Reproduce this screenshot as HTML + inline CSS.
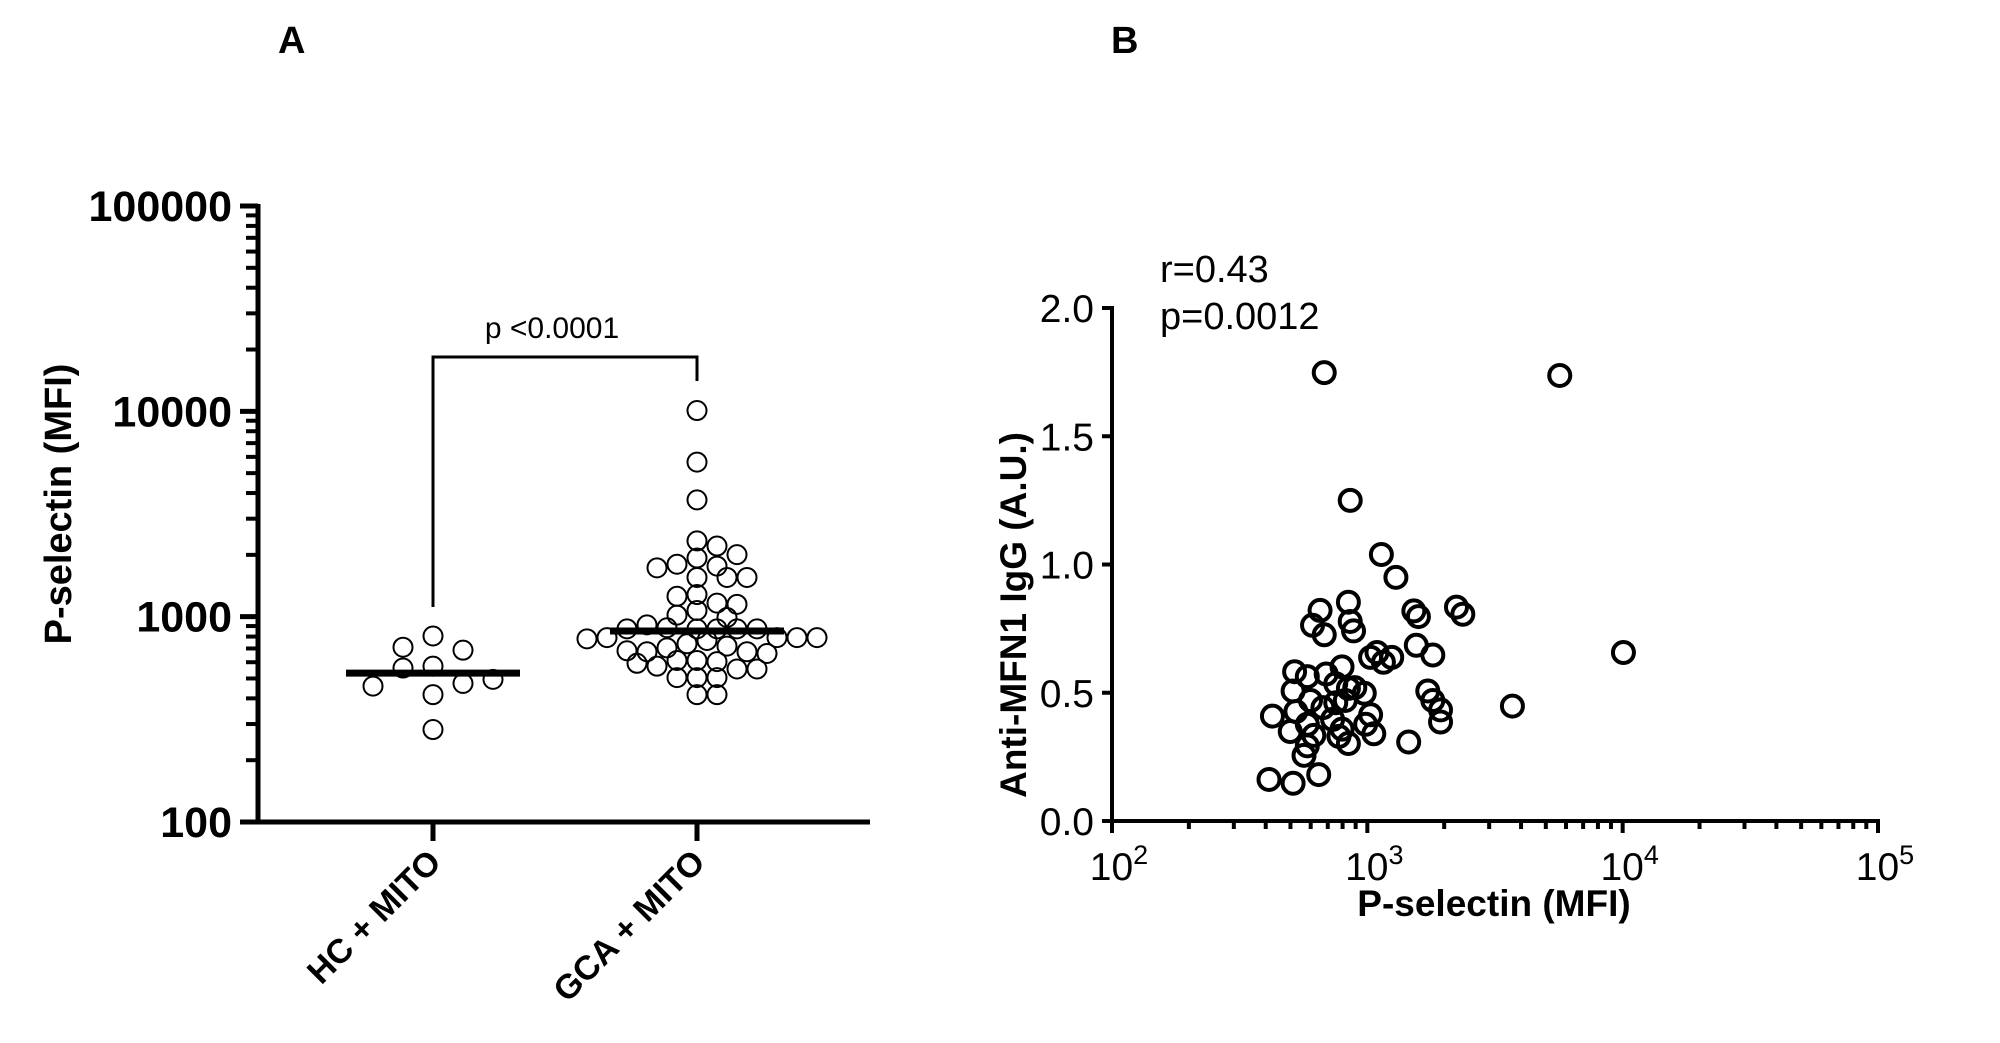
<!DOCTYPE html>
<html><head><meta charset="utf-8"><style>
html,body{margin:0;padding:0;background:#fff;}
svg{display:block;font-family:"Liberation Sans",Arial,sans-serif;}
</style></head><body>
<svg id="fig" width="2000" height="1043" viewBox="0 0 2000 1043">
<text x="278" y="53" font-size="38" font-weight="bold">A</text>
<text x="1111" y="53" font-size="38" font-weight="bold">B</text>
<g id="pa"></g>
<g id="pb"></g>
</svg>
<script>
// Panel A data
const aCategories = ["HC + MITO", "GCA + MITO"];
const aYTicks = [100, 1000, 10000, 100000];
const aMedians = [531, 851];
const hcValues = [805, 687, 710, 574, 562, 473, 495, 459, 417, 282];
const gcaValues = [10090, 5660, 3705, 2339, 2208, 1930, 1763, 1800, 2005, 1552, 1729, 1552, 1552, 1282, 1164, 1257, 1148, 1072, 1018, 991, 872, 883, 872, 872, 912, 872, 872, 791, 791, 791, 780, 791, 766, 738, 719, 705, 675, 675, 662, 682, 612, 604, 612, 556, 574, 593, 556, 505, 505, 505, 417, 417];
const pLabel = "p <0.0001";
// Panel B data
const bXTickExp = [2, 3, 4, 5];
const bYTicks = [0.0, 0.5, 1.0, 1.5, 2.0];
const bX = [678, 5670, 857, 1135, 1294, 843, 653, 610, 678, 857, 883, 1521, 1585, 2234, 2366, 1555, 1805, 10070, 1030, 1156, 1246, 1091, 519, 582, 512, 599, 525, 425, 499, 582, 617, 582, 565, 412, 512, 645, 690, 752, 796, 843, 752, 820, 893, 731, 796, 843, 774, 1030, 985, 1060, 1725, 1805, 1935, 1935, 1452, 3700, 670, 973];
const bY = [1.748, 1.737, 1.25, 1.039, 0.95, 0.853, 0.821, 0.763, 0.726, 0.778, 0.741, 0.819, 0.797, 0.834, 0.806, 0.685, 0.647, 0.657, 0.638, 0.619, 0.638, 0.657, 0.582, 0.563, 0.507, 0.47, 0.427, 0.409, 0.349, 0.377, 0.334, 0.293, 0.256, 0.162, 0.147, 0.181, 0.573, 0.535, 0.601, 0.517, 0.461, 0.47, 0.52, 0.396, 0.358, 0.302, 0.33, 0.414, 0.377, 0.34, 0.507, 0.47, 0.433, 0.386, 0.308, 0.448, 0.442, 0.498];
const statsR = "r=0.43", statsP = "p=0.0012";

const NS = "http://www.w3.org/2000/svg";
function mk(parent, tag, attrs, text) {
  const e = document.createElementNS(NS, tag);
  for (const k in attrs) e.setAttribute(k, attrs[k]);
  if (text !== undefined) e.textContent = text;
  parent.appendChild(e);
  return e;
}

// ===== Panel A =====
const pa = document.getElementById('pa');
const aLeft = 258, aRight = 870, aTop = 206, aBottom = 822;
const aCatX = [433, 697];
const ay = v => aBottom - (Math.log10(v) - 2) * (aBottom - aTop) / 3;

let e;
e = mk(pa, 'line', {x1: aLeft, y1: aTop - 2, x2: aLeft, y2: aBottom + 2.5, stroke: '#000', 'stroke-width': 5});
 
e = mk(pa, 'line', {x1: aLeft - 18, y1: aBottom, x2: aRight, y2: aBottom, stroke: '#000', 'stroke-width': 5});
 
for (let d = 2; d < 5; d++) {
  for (let m = 2; m <= 9; m++) {
    const y = ay(m * Math.pow(10, d));
    e = mk(pa, 'line', {x1: aLeft - 12, y1: y, x2: aLeft, y2: y, stroke: '#000', 'stroke-width': 4});
     
  }
}
aYTicks.forEach(v => {
  const y = ay(v);
  e = mk(pa, 'line', {x1: aLeft - 18, y1: y, x2: aLeft, y2: y, stroke: '#000', 'stroke-width': 5});
   
  e = mk(pa, 'text', {x: 232, y: y + 15, 'text-anchor': 'end', 'font-size': 43, 'font-weight': 'bold'}, String(v));
   
});
e = mk(pa, 'text', {x: 0, y: 0, 'text-anchor': 'middle', 'font-size': 38, 'font-weight': 'bold', transform: 'translate(71,504) rotate(-90)'}, 'P-selectin (MFI)');
 
aCategories.forEach((c, i) => {
  const x = aCatX[i];
  e = mk(pa, 'line', {x1: x, y1: aBottom, x2: x, y2: aBottom + 19, stroke: '#000', 'stroke-width': 5});
   
  e = mk(pa, 'text', {x: 0, y: 0, 'text-anchor': 'end', 'font-size': 34, 'font-weight': 'bold', transform: `translate(${x + 10},${aBottom + 42}) rotate(-45)`}, c);
   
});
// swarm layout
function swarm(values, cx, minDist, step) {
  const placed = [];
  values.forEach(v => {
    const y = ay(v);
    let off = 0;
    for (let k = 0; k < 60; k++) {
      const cand = k === 0 ? 0 : (k % 2 ? 1 : -1) * Math.ceil(k / 2) * step;
      const ok = placed.every(p => Math.hypot(p.x - (cx + cand), p.y - y) >= minDist);
      if (ok) { off = cand; break; }
    }
    placed.push({x: cx + off, y: y});
  });
  return placed;
}
swarm(hcValues, aCatX[0], 20, 30).forEach(p => {
  e = mk(pa, 'circle', {cx: p.x, cy: p.y, r: 9.5, fill: 'none', stroke: '#000', 'stroke-width': 2});
   
});
swarm(gcaValues, aCatX[1], 15, 10).forEach(p => {
  e = mk(pa, 'circle', {cx: p.x, cy: p.y, r: 9.5, fill: 'none', stroke: '#000', 'stroke-width': 2});
   
});
aMedians.forEach((m, i) => {
  const y = ay(m);
  e = mk(pa, 'line', {x1: aCatX[i] - 87, y1: y, x2: aCatX[i] + 87, y2: y, stroke: '#000', 'stroke-width': 7});
   
});
e = mk(pa, 'path', {d: `M${aCatX[0]},607 V357 H${aCatX[1]} V381`, fill: 'none', stroke: '#000', 'stroke-width': 3});
 
e = mk(pa, 'text', {x: 552, y: 338, 'text-anchor': 'middle', 'font-size': 30}, pLabel);
 

// ===== Panel B =====
const pb = document.getElementById('pb');
const bLeft = 1112, bRight = 1878, bTop = 308, bBottom = 821;
const bx = v => bLeft + (Math.log10(v) - 2) * (bRight - bLeft) / 3;
const by = v => bBottom - v / 2 * (bBottom - bTop);
e = mk(pb, 'line', {x1: bLeft, y1: bTop - 2, x2: bLeft, y2: bBottom + 2, stroke: '#000', 'stroke-width': 4});
 
e = mk(pb, 'line', {x1: bLeft - 10, y1: bBottom, x2: bRight + 2, y2: bBottom, stroke: '#000', 'stroke-width': 4});
 
bYTicks.forEach(v => {
  const y = by(v);
  e = mk(pb, 'line', {x1: bLeft - 10, y1: y, x2: bLeft, y2: y, stroke: '#000', 'stroke-width': 4});
   
  e = mk(pb, 'text', {x: 1094, y: y + 14, 'text-anchor': 'end', 'font-size': 39}, v.toFixed(1));
   
});
for (let d = 2; d < 5; d++) {
  for (let m = 2; m <= 9; m++) {
    const x = bx(m * Math.pow(10, d));
    e = mk(pb, 'line', {x1: x, y1: bBottom, x2: x, y2: bBottom + 8, stroke: '#000', 'stroke-width': 4});
     
  }
}
bXTickExp.forEach(k => {
  const x = bx(Math.pow(10, k));
  e = mk(pb, 'line', {x1: x, y1: bBottom, x2: x, y2: bBottom + 12, stroke: '#000', 'stroke-width': 4});
   
  e = mk(pb, 'text', {x: x + 7, y: 880, 'text-anchor': 'middle', 'font-size': 39});
   
  mk(e, 'tspan', {}, '10');
  mk(e, 'tspan', {dy: -16, 'font-size': 27}, String(k));
});
e = mk(pb, 'text', {x: 1494, y: 916, 'text-anchor': 'middle', 'font-size': 37, 'font-weight': 'bold'}, 'P-selectin (MFI)');
 
e = mk(pb, 'text', {x: 0, y: 0, 'text-anchor': 'middle', 'font-size': 37, 'font-weight': 'bold', transform: 'translate(1026,615) rotate(-90)'}, 'Anti-MFN1 IgG (A.U.)');
 
bX.forEach((v, i) => {
  e = mk(pb, 'circle', {cx: bx(v), cy: by(bY[i]), r: 10.5, fill: 'none', stroke: '#000', 'stroke-width': 4});
   
});
e = mk(pb, 'text', {x: 1160, y: 282, 'font-size': 38}, statsR);
 
e = mk(pb, 'text', {x: 1160, y: 329, 'font-size': 38}, statsP);
 
</script>
</body></html>
